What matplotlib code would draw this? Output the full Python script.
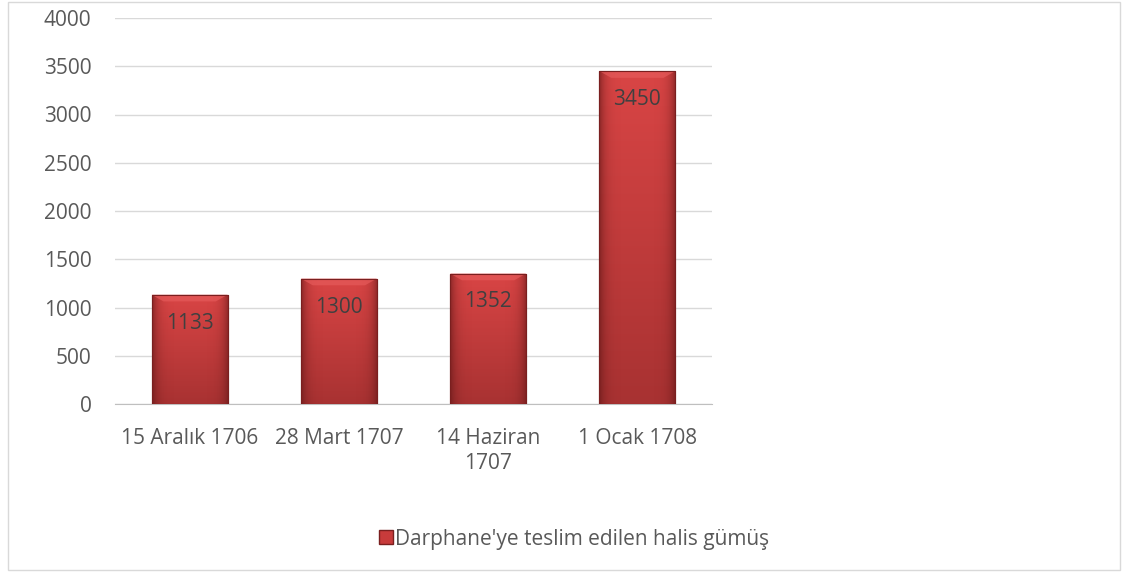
import matplotlib
matplotlib.use("Agg")
import matplotlib.pyplot as plt
import numpy as np
from matplotlib.patches import Rectangle, Polygon
from matplotlib.colors import LinearSegmentedColormap
from matplotlib.lines import Line2D

categories = ["15 Aralık 1706", "28 Mart 1707", "14 Haziran\n1707", "1 Ocak 1708"]
values = [1133, 1300, 1352, 3450]
series_name = "Darphane'ye teslim edilen halis gümüş"
yticks = [0, 500, 1000, 1500, 2000, 2500, 3000, 3500, 4000]

plt.rcParams['font.family'] = ['Open Sans', 'DejaVu Sans']

W, H = 1128, 576
fig = plt.figure(figsize=(W/100, H/100), dpi=100)
ax = fig.add_axes([115/W, 1-404/H, (712-115)/W, (404-18)/H])

x = np.arange(len(values))
bw = 0.51
bars = ax.bar(x, values, width=bw, color="#c83b3b", edgecolor="#7a1f1f", linewidth=0.8, zorder=3)

grad = np.linspace(0, 1, 256).reshape(-1, 1)
cmap = LinearSegmentedColormap.from_list("rg", ["#a83232", "#d94545"])
hx = np.linspace(-1, 1, 128)
side = (np.abs(hx) ** 6).reshape(1, -1)
side_rgba = np.zeros((1, 128, 4))
side_rgba[..., 0] = 0.35
side_rgba[..., 1] = 0.08
side_rgba[..., 2] = 0.08
side_rgba[..., 3] = side * 0.6
for b in bars:
    bx, by = b.get_x(), b.get_y()
    bwid, bh = b.get_width(), b.get_height()
    im = ax.imshow(grad, extent=[bx, bx+bwid, by, by+bh], origin="lower", cmap=cmap,
                   aspect="auto", zorder=3.5)
    im.set_clip_path(b)
    im2 = ax.imshow(side_rgba, extent=[bx, bx+bwid, by, by+bh], origin="lower",
                    aspect="auto", zorder=3.55)
    im2.set_clip_path(b)
    d = 0.08
    ax.add_patch(Polygon([(bx, by+bh), (bx+bwid, by+bh), (bx+bwid-d, by+bh-70), (bx+d, by+bh-70)],
                         closed=True, facecolor="#e55a5a", edgecolor="none", alpha=0.7, zorder=3.6))
    ax.add_patch(Rectangle((bx, by), bwid, bh, facecolor="none", edgecolor="#7a1f1f", linewidth=0.8, zorder=3.8))
    ax.text(bx+bwid/2, by+bh-295, f"{int(bh)}", ha="center", va="center", fontsize=15, color="#404040", zorder=4)

ax.set_xlim(-0.5, len(values)-0.5)
ax.set_ylim(0, 4000)
ax.set_yticks(yticks)
ax.set_yticklabels([str(v) for v in yticks])
ax.set_xticks(x)
ax.set_xticklabels(categories, linespacing=1.25)
ax.grid(axis="y", color="#d9d9d9", linewidth=1, zorder=0)
for s in ["top", "right", "left"]:
    ax.spines[s].set_visible(False)
ax.spines["bottom"].set_color("#bfbfbf")
ax.tick_params(axis="y", length=0, labelsize=15, labelcolor="#595959", pad=17)
ax.tick_params(axis="x", length=0, labelsize=15, labelcolor="#595959", pad=17)

h = Line2D([], [], marker="s", linestyle="none", markersize=10, markerfacecolor="#c83b3b", markeredgecolor="#7a1f1f")
fig.legend([h], [series_name], loc="center", bbox_to_anchor=(574/W, 1-539/H), frameon=False,
           fontsize=15, labelcolor="#595959", handletextpad=0.1, handlelength=0.7)

fig.add_artist(Rectangle((8/W, 1-570/H), (1120-8)/W, (570-2)/H, transform=fig.transFigure,
                         facecolor="none", edgecolor="#d9d9d9", linewidth=1))

fig.savefig("out.png", dpi=100)
